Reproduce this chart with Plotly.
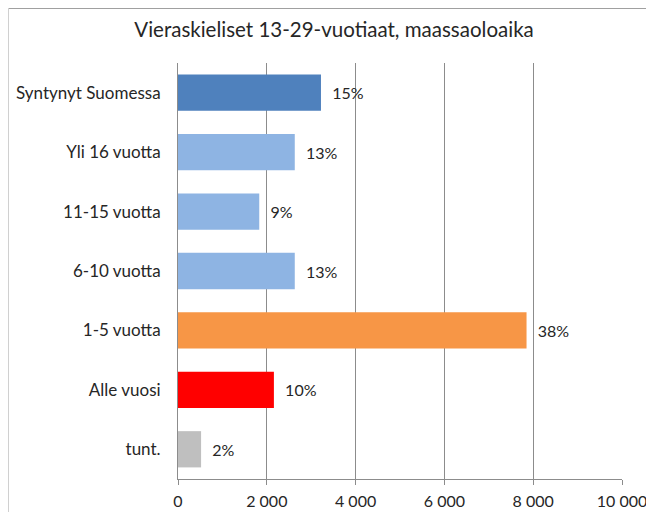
import plotly.graph_objects as go

# Vieraskieliset 13-29-vuotiaat maassaoloajan mukaan
luokat = ["Syntynyt Suomessa", "Yli 16 vuotta", "11-15 vuotta", "6-10 vuotta",
          "1-5 vuotta", "Alle vuosi", "tunt."]
maarat = [3220, 2630, 1830, 2630, 7850, 2160, 520]
osuudet = ["15%", "13%", "9%", "13%", "38%", "10%", "2%"]
varit = ["#4F81BD", "#8EB4E3", "#8EB4E3", "#8EB4E3", "#F79646", "#FF0000", "#BFBFBF"]
tikit = [0, 2000, 4000, 6000, 8000, 10000]

fontti = "Lato, Open Sans, sans-serif"

# sivun oletusmarginaali (8px) huomioitu: kuva 638x504
traco = go.Bar(
    x=maarat,
    y=luokat,
    orientation="h",
    marker=dict(color=varit, line=dict(width=0)),
    text=osuudet,
    texttemplate="  %{text}",
    textposition="outside",
    cliponaxis=False,
    textfont=dict(size=16, color="#262626", family=fontti),
)

layout = go.Layout(
    title=dict(text="Vieraskieliset 13-29-vuotiaat, maassaoloaika",
               x=(334 - 8) / 638, xanchor="center", y=1 - (30 - 8) / 504, yanchor="middle",
               font=dict(size=20.5, color="#262626", family=fontti)),
    width=638, height=504,
    margin=dict(l=170, r=24, t=55, b=33),
    paper_bgcolor="white", plot_bgcolor="white",
    separators=", ",
    bargap=0.39,
    showlegend=False,
    font=dict(family=fontti, size=16, color="#262626"),
)
fig = go.Figure(data=[traco], layout=layout)

fig.update_xaxes(range=[0, 10000], tickvals=tikit, tickformat=",d",
                 showgrid=True, gridcolor="#8C8C8C", gridwidth=1,
                 showline=True, linecolor="#8C8C8C", linewidth=1,
                 ticks="outside", ticklen=5, tickcolor="#8C8C8C",
                 ticklabeloverflow="allow", automargin=False, ticklabelstandoff=3,
                 zeroline=False, tickfont=dict(size=16, color="#262626"))
fig.update_yaxes(autorange="reversed", showline=True, linecolor="#8C8C8C", linewidth=1,
                 ticks="", ticklabelstandoff=13, showgrid=False, automargin=False,
                 tickfont=dict(size=17, color="#262626"))

# kaavion reunus (ylä- ja vasen reuna)
ylareuna = 1 + 54.5 / 416
vasen = -169.5 / 444
fig.add_shape(type="line", xref="paper", yref="paper",
              x0=vasen, x1=1.1, y0=ylareuna, y1=ylareuna,
              line=dict(color="#A0A0A0", width=1))
fig.add_shape(type="line", xref="paper", yref="paper",
              x0=vasen, x1=vasen, y0=ylareuna, y1=-0.2,
              line=dict(color="#D0D0D0", width=1))

fig.write_html("out.html")
